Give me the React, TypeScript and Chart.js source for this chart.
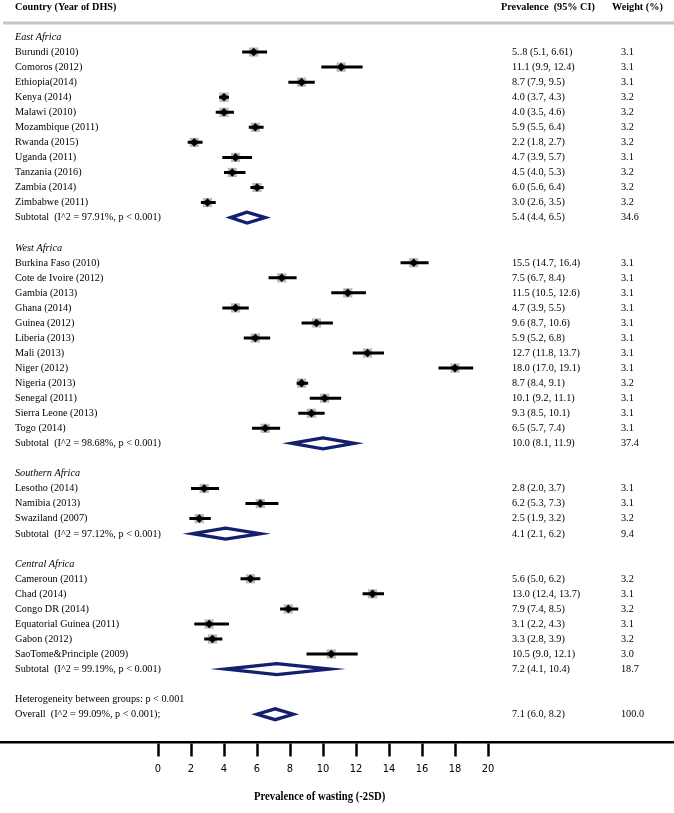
import { useEffect, useRef } from 'react';
import { Chart, registerables } from 'chart.js';

Chart.register(...registerables);

// ---------------- data ----------------
const groupTitles = ['East Africa', 'West Africa', 'Southern Africa', 'Central Africa'];

const eastNames = ['Burundi (2010)', 'Comoros (2012)', 'Ethiopia(2014)', 'Kenya (2014)', 'Malawi (2010)', 'Mozambique (2011)', 'Rwanda (2015)', 'Uganda (2011)', 'Tanzania (2016)', 'Zambia (2014)', 'Zimbabwe (2011)'];
const eastEst = [5.8, 11.1, 8.7, 4.0, 4.0, 5.9, 2.2, 4.7, 4.5, 6.0, 3.0];
const eastLo = [5.1, 9.9, 7.9, 3.7, 3.5, 5.5, 1.8, 3.9, 4.0, 5.6, 2.6];
const eastHi = [6.61, 12.4, 9.5, 4.3, 4.6, 6.4, 2.7, 5.7, 5.3, 6.4, 3.5];
const eastWeight = [3.1, 3.1, 3.1, 3.2, 3.2, 3.2, 3.2, 3.1, 3.2, 3.2, 3.2];

const westNames = ['Burkina Faso (2010)', 'Cote de Ivoire (2012)', 'Gambia (2013)', 'Ghana (2014)', 'Guinea (2012)', 'Liberia (2013)', 'Mali (2013)', 'Niger (2012)', 'Nigeria (2013)', 'Senegal (2011)', 'Sierra Leone (2013)', 'Togo (2014)'];
const westEst = [15.5, 7.5, 11.5, 4.7, 9.6, 5.9, 12.7, 18.0, 8.7, 10.1, 9.3, 6.5];
const westLo = [14.7, 6.7, 10.5, 3.9, 8.7, 5.2, 11.8, 17.0, 8.4, 9.2, 8.5, 5.7];
const westHi = [16.4, 8.4, 12.6, 5.5, 10.6, 6.8, 13.7, 19.1, 9.1, 11.1, 10.1, 7.4];
const westWeight = [3.1, 3.1, 3.1, 3.1, 3.1, 3.1, 3.1, 3.1, 3.2, 3.1, 3.1, 3.1];

const southNames = ['Lesotho (2014)', 'Namibia (2013)', 'Swaziland (2007)'];
const southEst = [2.8, 6.2, 2.5];
const southLo = [2.0, 5.3, 1.9];
const southHi = [3.7, 7.3, 3.2];
const southWeight = [3.1, 3.1, 3.2];

const centralNames = ['Cameroun (2011)', 'Chad (2014)', 'Congo DR (2014)', 'Equatorial Guinea (2011)', 'Gabon (2012)', 'SaoTome&Principle (2009)'];
const centralEst = [5.6, 13.0, 7.9, 3.1, 3.3, 10.5];
const centralLo = [5.0, 12.4, 7.4, 2.2, 2.8, 9.0];
const centralHi = [6.2, 13.7, 8.5, 4.3, 3.9, 12.1];
const centralWeight = [3.2, 3.1, 3.2, 3.1, 3.2, 3.0];

const subtotalLabels = ['Subtotal  (I^2 = 97.91%, p < 0.001)', 'Subtotal  (I^2 = 98.68%, p < 0.001)', 'Subtotal  (I^2 = 97.12%, p < 0.001)', 'Subtotal  (I^2 = 99.19%, p < 0.001)'];
const subtotalEst = [5.4, 10.0, 4.1, 7.2];
const subtotalLo = [4.4, 8.1, 2.1, 4.1];
const subtotalHi = [6.5, 11.9, 6.2, 10.4];
const subtotalWeight = [34.6, 37.4, 9.4, 18.7];

const heterogeneityLabel = 'Heterogeneity between groups: p < 0.001';
const overallLabel = 'Overall  (I^2 = 99.09%, p < 0.001);';
const overallEst = 7.1;
const overallLo = 6.0;
const overallHi = 8.2;
const overallWeight = 100.0;

const ciTextOverrides: Record<string, string> = { 'Burundi (2010)': '5..8 (5.1, 6.61)' };

const xTickValues = [0, 2, 4, 6, 8, 10, 12, 14, 16, 18, 20];
const headerTexts = ['Country (Year of DHS)', 'Prevalence  (95% CI)', 'Weight (%)'];
const xAxisTitle = 'Prevalence of wasting (-2SD)';

// ---------------- layout ----------------
const W = 674;
const H = 813;
const ROW0_PX = 37;
const ROW_PX = 15.05;
const ZERO_PX = 158;
const UNIT_PX = 16.5;
const Y_MIN = -ROW0_PX / ROW_PX;
const Y_MAX = Y_MIN + H / ROW_PX;
const X_MIN = -ZERO_PX / UNIT_PX;
const X_MAX = X_MIN + W / UNIT_PX;
const AXIS_ROW = (742 - ROW0_PX) / ROW_PX;
const DIAMOND_H = 0.36;
const SX = 0.93;
const FONT = "'Liberation Serif', 'Times New Roman', serif";
const NAVY = '#12206e';

type Row = { kind: string; label: string; row: number; est?: number; lo?: number; hi?: number; weight?: number };

function buildRows(): Row[] {
  const groups = [
    [eastNames, eastEst, eastLo, eastHi, eastWeight],
    [westNames, westEst, westLo, westHi, westWeight],
    [southNames, southEst, southLo, southHi, southWeight],
    [centralNames, centralEst, centralLo, centralHi, centralWeight],
  ] as [string[], number[], number[], number[], number[]][];
  const rows: Row[] = [];
  let r = 0;
  groups.forEach(([names, est, lo, hi, wt], g) => {
    rows.push({ kind: 'header', label: groupTitles[g], row: r++ });
    names.forEach((n, i) => rows.push({ kind: 'study', label: n, row: r++, est: est[i], lo: lo[i], hi: hi[i], weight: wt[i] }));
    rows.push({ kind: 'pooled', label: subtotalLabels[g], row: r++, est: subtotalEst[g], lo: subtotalLo[g], hi: subtotalHi[g], weight: subtotalWeight[g] });
    r++;
  });
  rows.push({ kind: 'note', label: heterogeneityLabel, row: r++ });
  rows.push({ kind: 'pooled', label: overallLabel, row: r++, est: overallEst, lo: overallLo, hi: overallHi, weight: overallWeight });
  return rows;
}

function ciText(r: Row) {
  if (ciTextOverrides[r.label]) return ciTextOverrides[r.label];
  return `${r.est!.toFixed(1)} (${r.lo!.toFixed(1)}, ${r.hi!.toFixed(1)})`;
}

export default function App() {
  const ref = useRef<HTMLCanvasElement | null>(null);
  useEffect(() => {
    if (!ref.current) return;
    const rows = buildRows();
    const studies = rows.filter((r) => r.kind === 'study');
    const pooled = rows.filter((r) => r.kind === 'pooled');

    const ciData: any[] = [];
    studies.forEach((s) => {
      ciData.push({ x: s.lo, y: s.row }, { x: s.hi, y: s.row }, { x: null, y: null });
    });
    const diamondData: any[] = [];
    pooled.forEach((p) => {
      diamondData.push(
        { x: p.lo, y: p.row },
        { x: p.est, y: p.row - DIAMOND_H },
        { x: p.hi, y: p.row },
        { x: p.est, y: p.row + DIAMOND_H },
        { x: p.lo, y: p.row },
        { x: p.est, y: p.row - DIAMOND_H },
        { x: null, y: null }
      );
    });

    const textPlugin = {
      id: 'forestText',
      afterDraw(chart: any) {
        const ctx = chart.ctx as CanvasRenderingContext2D;
        const ys = chart.scales.y;
        const xs = chart.scales.x;
        const draw = (s: string, x: number, y: number, font: string, align: CanvasTextAlign = 'left') => {
          ctx.save();
          ctx.translate(x, y);
          ctx.scale(SX, 1);
          ctx.font = font;
          ctx.fillStyle = '#000';
          ctx.textBaseline = 'middle';
          ctx.textAlign = align;
          ctx.fillText(s, 0, 0);
          ctx.restore();
        };
        // header
        const hy = ys.getPixelForValue(-2);
        draw(headerTexts[0], 15, hy, `bold 11px ${FONT}`);
        draw(headerTexts[1], 501, hy, `bold 11px ${FONT}`);
        draw(headerTexts[2], 612, hy, `bold 11px ${FONT}`);
        ctx.save();
        ctx.strokeStyle = '#c6c6c6';
        ctx.lineWidth = 3;
        ctx.beginPath();
        const ly = ys.getPixelForValue(-0.93);
        ctx.moveTo(3, ly);
        ctx.lineTo(W, ly);
        ctx.stroke();
        ctx.restore();
        rows.forEach((r) => {
          const py = ys.getPixelForValue(r.row);
          if (r.kind === 'header') {
            draw(r.label, 15, py, `italic 11px ${FONT}`);
          } else {
            draw(r.label, 15, py, `11px ${FONT}`);
          }
          if (r.est !== undefined) {
            draw(ciText(r), 512, py, `11px ${FONT}`);
            draw(r.weight!.toFixed(1), 621, py, `11px ${FONT}`);
          }
        });
        draw(xAxisTitle, xs.getPixelForValue(9.8), 797, `bold 11.5px ${FONT}`, 'center');
      },
    };

    const chart = new Chart(ref.current, {
      type: 'scatter',
      data: {
        datasets: [
          {
            type: 'scatter',
            data: studies.map((s) => ({ x: s.est, y: s.row })),
            pointStyle: 'rect',
            pointRadius: 6.5,
            backgroundColor: '#b9b9b9',
            borderWidth: 0,
            order: 3,
          } as any,
          {
            type: 'line',
            data: ciData,
            borderColor: '#000',
            borderWidth: 3,
            pointRadius: 0,
            spanGaps: false,
            borderCapStyle: 'butt',
            fill: false,
            order: 2,
          } as any,
          {
            type: 'scatter',
            data: studies.map((s) => ({ x: s.est, y: s.row })),
            pointStyle: 'rectRot',
            pointRadius: 4.3,
            backgroundColor: '#000',
            borderWidth: 0,
            order: 1,
          } as any,
          {
            type: 'line',
            data: diamondData,
            borderColor: NAVY,
            borderWidth: 3.3,
            borderJoinStyle: 'miter',
            pointRadius: 0,
            spanGaps: false,
            fill: false,
            order: 0,
          } as any,
        ],
      },
      options: {
        responsive: false,
        animation: false,
        events: [],
        layout: { padding: 0, autoPadding: false },
        plugins: { legend: { display: false }, tooltip: { enabled: false }, title: { display: false } },
        scales: {
          x: {
            type: 'linear',
            min: X_MIN,
            max: X_MAX,
            bounds: 'data',
            position: { y: AXIS_ROW } as any,
            afterBuildTicks: (scale: any) => {
              scale.ticks = xTickValues.map((v) => ({ value: v }));
            },
            grid: { display: true, drawOnChartArea: false, drawTicks: true, tickLength: 13, tickWidth: 2.5, tickColor: '#000' },
            border: { display: true, color: '#000', width: 2.5 },
            ticks: {
              color: '#000',
              padding: 8,
              autoSkip: false,
              maxRotation: 0,
              font: { family: "'Liberation Sans Narrow', 'DejaVu Sans Condensed', 'Liberation Sans', sans-serif", size: 11 },
              callback: (v: any) => String(v),
            },
          },
          y: {
            type: 'linear',
            min: Y_MIN,
            max: Y_MAX,
            bounds: 'data',
            reverse: true,
            display: false,
          },
        },
      } as any,
      plugins: [textPlugin],
    });
    return () => chart.destroy();
  }, []);

  return (
    <div style={{ position: 'absolute', left: 0, top: 0, width: W, height: H, background: '#fff' }}>
      <canvas ref={ref} width={W} height={H} style={{ display: 'block' }} />
    </div>
  );
}
